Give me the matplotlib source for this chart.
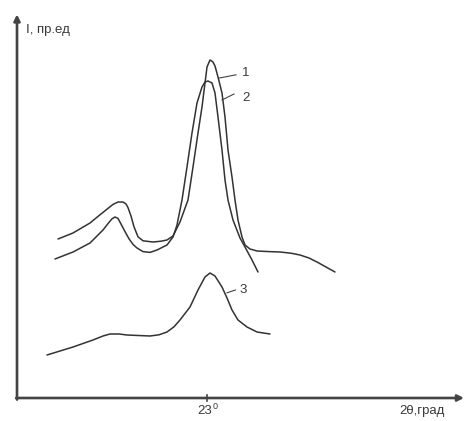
import matplotlib
matplotlib.use("Agg")
import matplotlib.pyplot as plt

plt.rcParams['font.family'] = ['Liberation Sans', 'DejaVu Sans']

# Diffraction curves: 2θ (degrees) and intensity (arb. units)
theta_1 = [15.55, 16.30, 17.15, 17.60, 18.00, 18.30, 18.55, 18.80, 18.95, 19.05,
           19.20, 19.35, 19.55, 19.80, 20.30, 20.70, 21.00, 21.30, 21.65, 22.05,
           22.30, 22.55, 22.75, 22.90, 23.00, 23.15, 23.30, 23.40, 23.55, 23.75,
           23.90, 24.05, 24.25, 24.40, 24.55, 24.75, 24.90, 25.15, 25.50, 26.10,
           26.65, 27.20, 27.65, 28.10, 28.50, 29.40]
inten_1 = [39.75, 41.25, 43.75, 45.6, 47.2, 48.4, 49.0, 49.0, 48.5, 47.6,
           45.5, 42.8, 40.3, 39.3, 39.0, 39.2, 39.5, 40.5, 44.0, 49.5,
           57.75, 66.25, 72.75, 78.75, 82.75, 84.5, 84.0, 83.0, 80.25, 76.25,
           70.25, 62.0, 55.25, 49.5, 44.5, 40.25, 38.25, 37.25, 36.75, 36.6,
           36.5, 36.2, 35.75, 35.0, 34.0, 31.5]

theta_2 = [15.40, 16.30, 17.15, 17.80, 18.05, 18.25, 18.40, 18.55, 18.70, 18.90,
           19.10, 19.30, 19.50, 19.80, 20.15, 20.50, 21.00, 21.30, 21.50, 21.75,
           22.00, 22.25, 22.50, 22.75, 22.90, 23.05, 23.25, 23.40, 23.55, 23.75,
           23.90, 24.05, 24.30, 24.65, 24.90, 25.25, 25.55]
inten_2 = [34.75, 36.5, 38.75, 42.0, 43.6, 44.8, 45.25, 44.9, 43.5, 41.6,
           39.8, 38.4, 37.5, 36.6, 36.4, 37.0, 38.25, 40.25, 43.25, 49.5,
           57.75, 66.25, 73.75, 77.75, 79.0, 79.25, 78.75, 76.25, 70.25, 62.0,
           54.5, 49.5, 44.5, 40.0, 37.75, 34.5, 31.5]

theta_3 = [15.00, 16.30, 17.30, 17.80, 18.15, 18.60, 19.00, 20.15, 20.60, 21.00,
           21.35, 21.65, 22.15, 22.55, 22.90, 23.15, 23.40, 23.75, 24.00, 24.25,
           24.55, 25.00, 25.50, 26.15]
inten_3 = [10.75, 12.75, 14.5, 15.5, 16.0, 16.0, 15.75, 15.5, 15.8, 16.5,
           17.8, 19.5, 22.75, 27.0, 30.25, 31.25, 30.5, 27.75, 25.0, 22.0,
           19.5, 17.75, 16.5, 16.0]

curve_labels = ['1', '2', '3']
tick_value = 23
x_label = '2θ,град'
y_label = 'I, пр.ед'

fig = plt.figure(figsize=(4.67, 4.21), dpi=100)
ax = fig.add_axes([0, 0, 1, 1])
ax.set_xlim(12.65, 36.0)
ax.set_ylim(-5.75, 99.5)
ax.axis('off')

line_kw = dict(color='#333333', lw=1.1, solid_joinstyle='round', solid_capstyle='round')
ax.plot(theta_1, inten_1, **line_kw)
ax.plot(theta_2, inten_2, **line_kw)
ax.plot(theta_3, inten_3, **line_kw)

# axes with arrow heads
x0, y0 = 13.5, 0.0
axis_col = '#444444'
ax.annotate('', xy=(x0, 95.9), xytext=(x0, y0 - 0.4),
            arrowprops=dict(arrowstyle='-|>', lw=1.9, color=axis_col,
                            mutation_scale=9, shrinkA=0, shrinkB=0))
ax.annotate('', xy=(35.85, y0), xytext=(x0 - 0.04, y0),
            arrowprops=dict(arrowstyle='-|>', lw=1.9, color=axis_col,
                            mutation_scale=9, shrinkA=0, shrinkB=0))

txt_col = '#3a3a3a'
# tick at 23°
ax.plot([tick_value, tick_value], [-0.7, 0.7], color=axis_col, lw=1.2)
ax.text(tick_value - 0.1, -1.7, str(tick_value), ha='center', va='top',
        fontsize=9.5, color=txt_col)
ax.text(tick_value + 0.3, -0.9, '0', ha='left', va='top',
        fontsize=6.5, color=txt_col)

ax.text(32.6, -1.7, x_label, ha='left', va='top', fontsize=9.5, color=txt_col)
ax.text(13.95, 92.0, y_label, ha='left', va='center', fontsize=9.5, color=txt_col)

# curve labels with leader lines
label_pos = [(24.75, 81.25), (24.75, 75.0), (24.62, 27.0)]
leader_from = [(23.62, 80.0), (23.75, 74.5), (24.0, 26.3)]
leader_to = [(24.45, 80.8), (24.35, 76.0), (24.42, 27.0)]
for lab, pos, a, b in zip(curve_labels, label_pos, leader_from, leader_to):
    ax.plot([a[0], b[0]], [a[1], b[1]], color='#444444', lw=0.8)
    ax.text(pos[0], pos[1], lab, ha='left', va='center', fontsize=9.5, color=txt_col)

fig.savefig('out.png', dpi=100)
